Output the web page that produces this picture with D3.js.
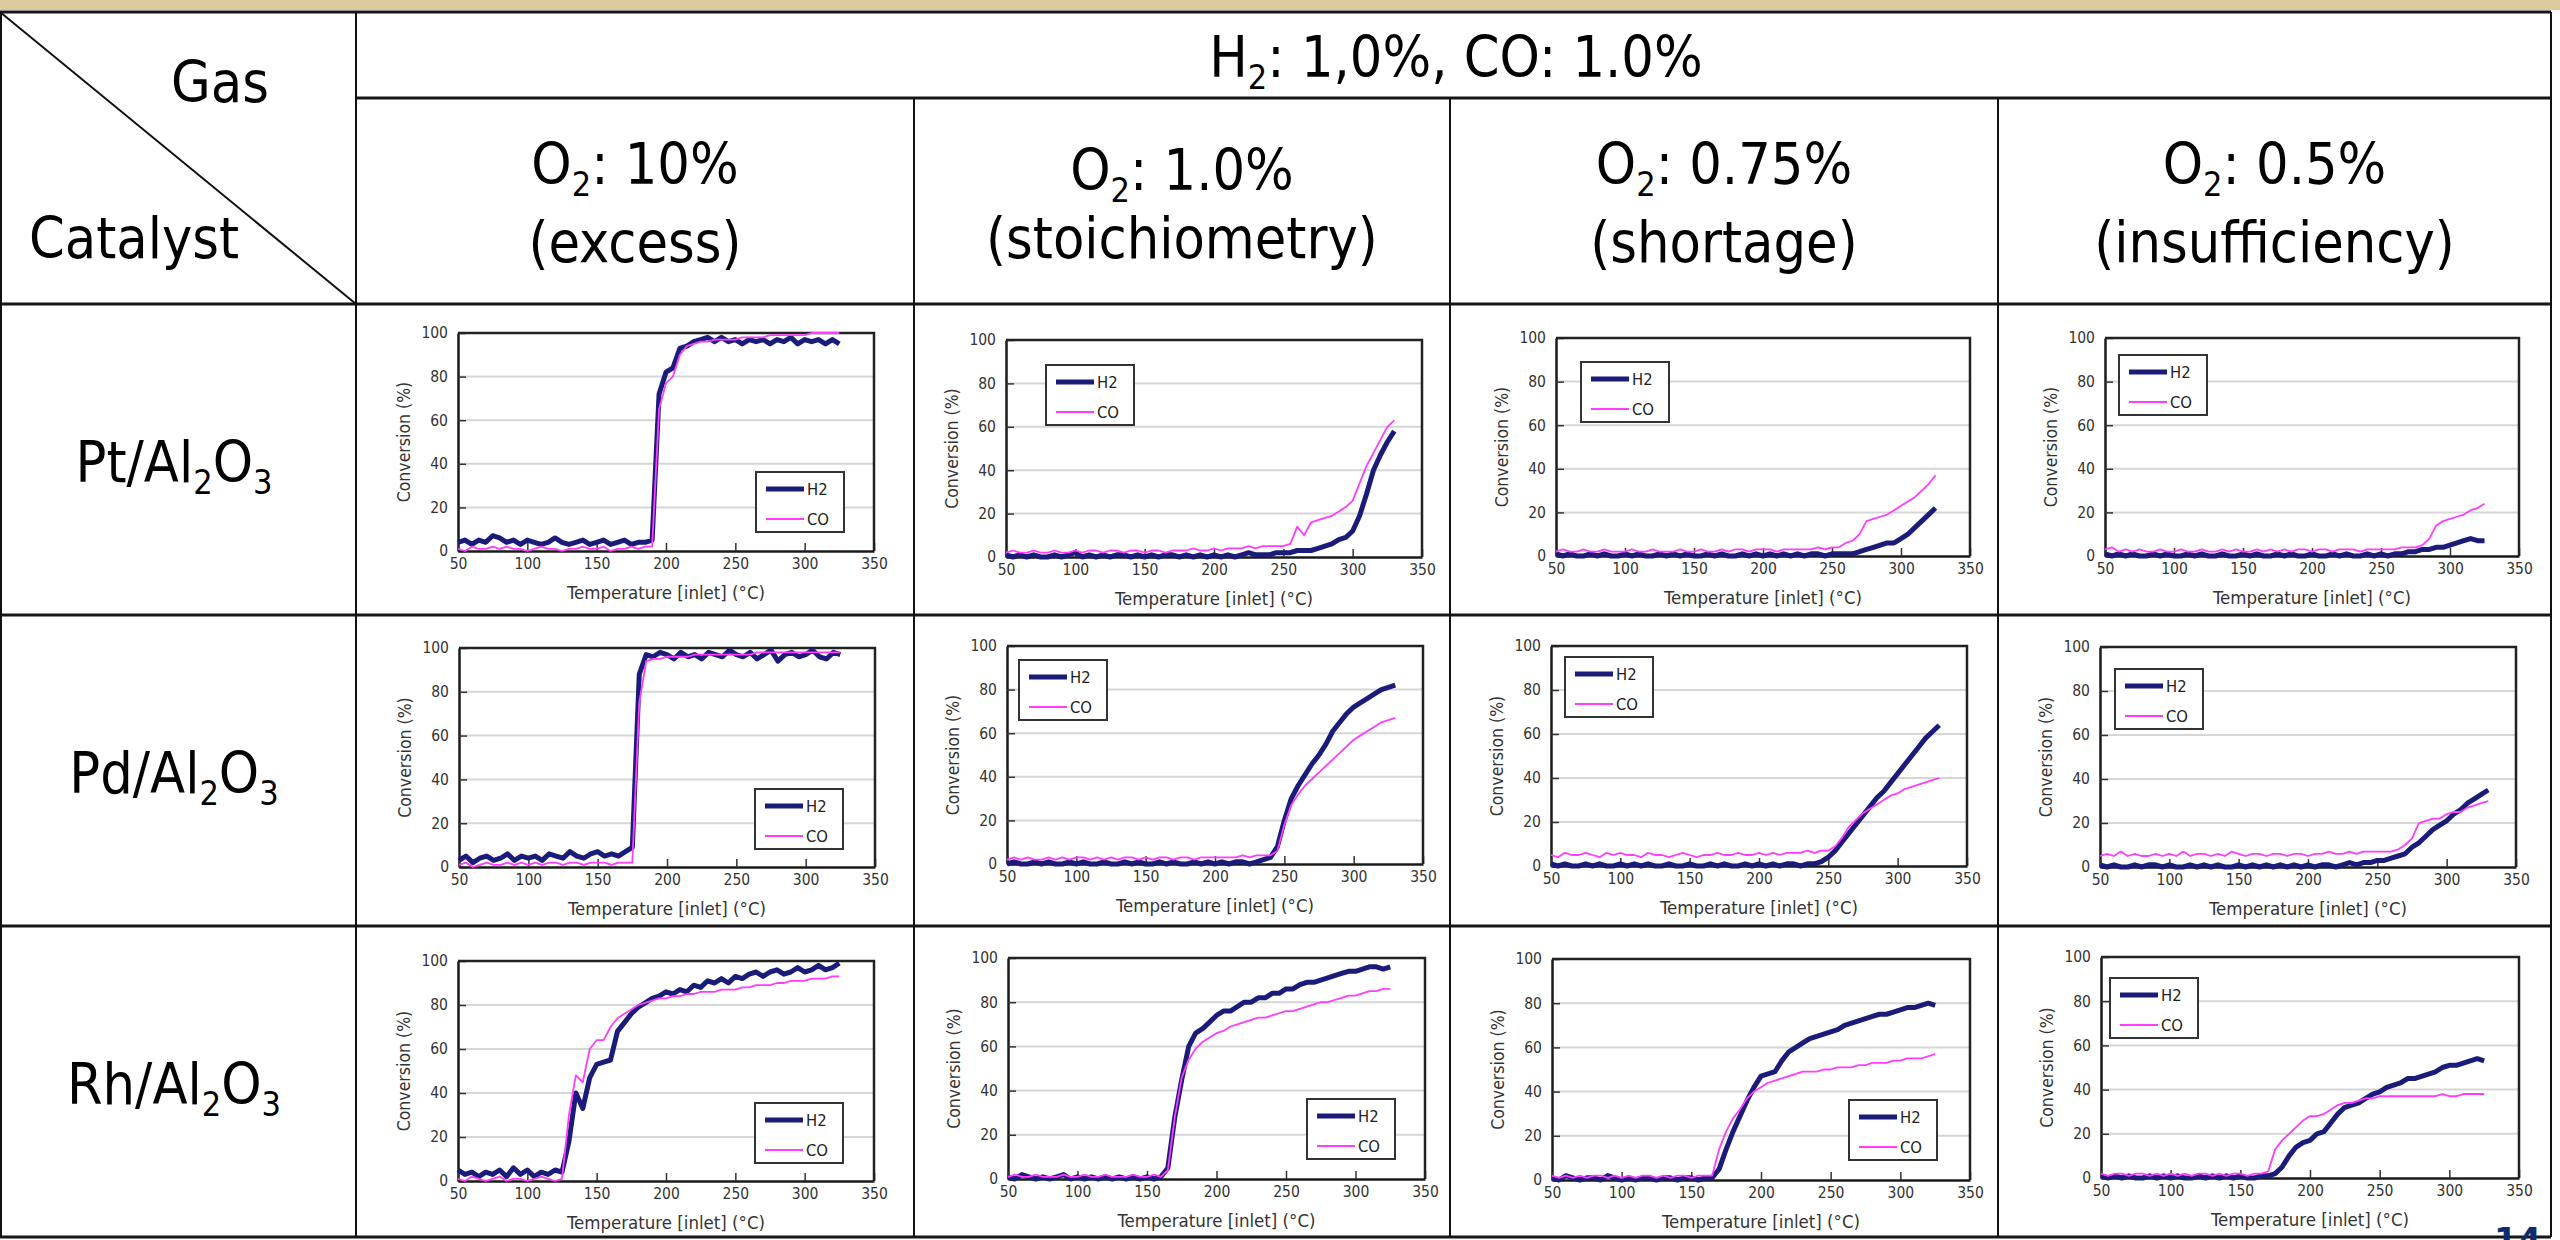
<!DOCTYPE html>
<html>
<head>
<meta charset="utf-8">
<script src="https://cdn.jsdelivr.net/npm/d3@7"></script>
<style>
body { margin: 0; background: #fff; }
svg { display: block; }
</style>
</head>
<body>
<svg id="chart" width="2560" height="1240"></svg>
<script>
// inlet temperature grid shared by every curve (degC)
var temperatures = [50,55,60,65,70,75,80,85,90,95,100,105,110,115,120,125,130,135,140,145,150,155,160,165,170,175,180,185,190,195,200,205,210,215,220,225,230,235,240,245,250,255,260,265,270,275,280,285,290,295,300,305,310,315,320,325,330];

var xTicks = [50, 100, 150, 200, 250, 300, 350];
var yTicks = [0, 20, 40, 60, 80, 100];
var gridValues = [20, 40, 60, 80];

var catalysts = ["Pt", "Pd", "Rh"];
var o2Levels = ["10%", "1.0%", "0.75%", "0.5%"];
var o2Notes = ["(excess)", "(stoichiometry)", "(shortage)", "(insufficiency)"];
var seriesNames = ["H2", "CO"];

// Pt/Al2O3
var ptH2Excess = [4,5,3,5,4,7,6,4,5,3, 5,4,3,4,6,4,3,4,5,3, 4,5,3,4,5,3,4,4,5,72, 82,84,93,94,96,97,98,96,98,96, 97,95,97,96,97,95,97,96,98,95, 97,96,97,95,97,95,null];
var ptCoExcess = [1,0,2,1,1,2,1,2,1,1, 0,1,2,1,1,0,1,1,2,1, 1,2,0,1,1,2,1,2,2,65, 77,80,90,94,95,96,96,97,97,97, 97,98,98,98,98,99,99,99,99,99, 99,100,100,100,100,100,null];
var ptH2Stoich = [1,0,1,0,1,0,0,1,0,1, 2,0,1,0,1,0,1,1,0,1, 0,1,0,1,1,0,1,0,1,0, 1,0,1,0,1,2,1,1,1,2, 2,2,3,3,3,4,5,6,8,9, 12,19,29,40,47,53,58];
var ptCoStoich = [2,3,2,2,3,2,2,3,2,2, 3,2,3,3,2,3,3,2,3,3, 2,3,3,2,3,3,3,4,3,3, 4,3,4,4,4,5,4,5,5,5, 5,6,14,10,16,17,18,19,21,23, 26,34,42,48,54,60,63];
var ptH2Short = [1,0,1,0,0,1,0,1,0,0, 1,0,1,0,0,1,0,1,0,1, 0,0,1,0,1,0,0,1,0,1, 0,1,0,1,0,1,0,1,1,0, 1,1,1,1,2,3,4,5,6,6, 8,10,13,16,19,22,null];
var ptCoShort = [2,3,2,2,3,2,2,3,2,2, 2,3,2,2,3,2,2,2,3,2, 2,3,2,2,3,2,3,3,2,3, 3,3,2,3,3,3,3,3,4,3, 4,4,6,7,10,16,17,18,19,21, 23,25,27,30,33,37,null];
var ptH2Insuf = [1,0,1,0,1,0,0,1,0,1, 0,0,1,0,1,0,0,1,0,0, 1,0,1,0,0,1,0,1,0,0, 1,0,0,1,0,1,0,0,1,0, 1,0,1,1,2,2,3,3,4,4, 5,6,7,8,7,7,null];
var ptCoInsuf = [3,4,2,3,2,3,2,2,3,2, 2,3,2,2,3,2,2,3,2,3, 2,2,3,2,3,2,3,2,3,3, 2,3,3,2,3,3,3,2,3,3, 3,3,3,4,4,4,5,8,14,16, 17,18,19,21,22,24,null];

// Pd/Al2O3
var pdH2Excess = [3,5,2,4,5,3,4,6,3,5, 4,5,3,6,5,4,7,5,4,6, 7,5,6,5,7,9,88,97,96,98, 97,95,98,96,97,95,98,97,96,99, 97,96,98,95,97,99,94,97,98,96, 97,99,96,95,98,97,null];
var pdCoExcess = [1,2,0,1,2,1,1,2,1,2, 1,2,1,2,2,1,2,2,1,2, 2,2,1,2,2,2,75,94,95,95, 96,96,96,96,97,97,97,97,97,97, 97,97,97,98,98,98,98,98,98,98, 98,98,98,98,98,98,null];
var pdH2Stoich = [0,1,0,0,1,0,1,0,0,1, 0,1,0,0,1,0,0,1,0,1, 0,0,1,0,1,0,0,1,0,1, 0,1,0,1,1,0,1,2,3,8, 20,30,36,41,46,50,55,61,65,69, 72,74,76,78,80,81,82];
var pdCoStoich = [2,3,2,3,2,2,3,2,3,2, 3,3,2,3,2,3,2,3,3,2, 3,2,3,3,2,3,3,2,3,3, 3,3,3,3,4,3,4,4,4,6, 18,27,32,36,39,42,45,48,51,54, 57,59,61,63,65,66,67];
var pdH2Short = [1,0,1,0,0,1,0,1,0,0, 1,0,1,0,1,0,0,1,0,0, 1,0,0,1,0,1,0,0,1,0, 1,0,1,0,1,1,0,1,1,2, 4,7,11,15,19,23,27,31,34,38, 42,46,50,54,58,61,64];
var pdCoShort = [5,4,6,5,5,6,5,4,6,5, 6,5,5,4,6,5,5,4,5,6, 5,4,5,5,6,5,5,6,5,5, 6,5,6,5,6,6,6,7,6,7, 7,9,13,18,21,24,26,28,30,32, 33,35,36,37,38,39,40];
var pdH2Insuf = [1,0,1,0,0,1,0,1,1,0, 1,0,0,1,0,1,0,1,0,0, 1,0,1,0,1,0,1,0,1,0, 1,0,1,1,0,1,2,1,2,2, 3,3,4,5,6,9,11,14,17,19, 21,24,26,29,31,33,35];
var pdCoInsuf = [5,6,5,7,5,6,5,5,6,5, 6,5,7,5,6,6,5,6,5,7, 6,5,6,6,5,6,6,5,6,6, 5,6,6,7,6,6,7,6,7,7, 7,7,7,8,10,13,20,21,22,22, 24,25,25,27,28,29,30];

// Rh/Al2O3
var rhH2Excess = [5,3,4,2,4,3,5,2,6,3, 5,2,4,3,5,4,18,40,33,47, 53,54,55,68,72,76,79,81,83,84, 86,85,87,86,89,88,91,90,92,90, 93,92,94,95,93,95,96,94,95,97, 95,96,98,96,97,99,null];
var rhCoExcess = [1,0,2,1,0,1,2,0,1,1, 0,1,2,1,0,1,30,48,45,60, 64,64,70,74,76,78,80,81,82,83, 83,84,84,85,85,86,86,86,87,87, 87,88,88,89,89,89,90,90,91,91, 91,92,92,92,93,93,null];
var rhH2Stoich = [1,0,2,1,0,1,0,1,2,0, 1,0,1,0,1,0,1,0,1,0, 1,0,1,5,28,45,60,66,68,71, 74,76,76,78,80,80,82,82,84,84, 86,86,88,89,89,90,91,92,93,94, 94,95,96,96,95,96,null];
var rhCoStoich = [1,2,1,1,2,1,1,1,2,1, 1,2,1,1,2,1,1,1,2,1, 1,2,1,4,28,46,54,59,62,64, 66,67,69,70,71,72,73,73,74,75, 76,76,77,78,79,80,80,81,82,83, 83,84,85,85,86,86,null];
var rhH2Short = [1,0,2,1,0,1,1,0,2,1, 0,1,0,1,1,0,1,1,0,1, 1,0,1,1,5,14,22,29,36,42, 47,48,49,54,58,60,62,64,65,66, 67,68,70,71,72,73,74,75,75,76, 77,78,78,79,80,79,null];
var rhCoShort = [2,1,2,1,2,1,2,2,1,2, 1,2,1,2,2,1,2,1,2,2, 1,2,2,2,14,22,28,32,37,40, 42,44,45,46,47,48,49,49,49,50, 50,51,51,51,52,52,53,53,53,54, 54,55,55,55,56,57,null];
var rhH2Insuf = [1,0,1,0,1,0,0,1,0,1, 0,1,0,0,1,0,1,0,1,0, 1,0,0,1,1,2,5,10,14,16, 17,20,21,25,29,32,33,34,36,38, 39,41,42,43,45,45,46,47,48,50, 51,51,52,53,54,53,null];
var rhCoInsuf = [2,1,2,2,1,2,2,1,2,1, 2,1,2,1,2,2,1,2,1,2, 2,1,2,2,3,13,17,20,23,26, 28,28,29,31,33,34,34,35,36,36, 37,37,37,37,37,37,37,37,37,38, 37,37,38,38,38,38,null];

var charts = [
    [ptH2Excess, ptCoExcess], [ptH2Stoich, ptCoStoich], [ptH2Short, ptCoShort], [ptH2Insuf, ptCoInsuf],
    [pdH2Excess, pdCoExcess], [pdH2Stoich, pdCoStoich], [pdH2Short, pdCoShort], [pdH2Insuf, pdCoInsuf],
    [rhH2Excess, rhCoExcess], [rhH2Stoich, rhCoStoich], [rhH2Short, rhCoShort], [rhH2Insuf, rhCoInsuf]
];

// layout: plot boxes [left, top, width, height] and legend placement
var plotBoxes = [
    [458, 333, 416, 218], [1006, 340, 416, 217], [1556, 338, 414, 218], [2105, 338, 414, 218],
    [459, 648, 416, 219], [1007, 646, 416, 218], [1551, 646, 416, 220], [2100, 647, 416, 220],
    [458, 961, 416, 220], [1008, 958, 417, 221], [1552, 959, 418, 221], [2101, 957, 418, 221]
];
var legendSpots = [
    ["br", 30, 19], ["tl", 40, 25], ["tl", 25, 24], ["tl", 14, 17],
    ["br", 32, 18], ["tl", 12, 14], ["tl", 14, 11], ["tl", 15, 22],
    ["br", 31, 18], ["br", 30, 20], ["br", 33, 20], ["tl", 9, 21]
];
var colX = [0, 356, 914, 1450, 1998, 2551];
var rowY = [12, 98, 304, 615, 926, 1237];

var bigFont = "'DejaVu Sans Condensed', 'DejaVu Sans', sans-serif";
var smallFont = "'DejaVu Sans Condensed', 'DejaVu Sans', sans-serif";
var h2Color = "#1b1b7a";
var coColor = "#ff3cff";

var svg = d3.select("#chart");

svg.append("rect").attr("x", 0).attr("y", 0).attr("width", 2560).attr("height", 9).attr("fill", "#dccb9c");
svg.append("line").attr("x1", 0).attr("x2", 2560).attr("y1", 9.5).attr("y2", 9.5).attr("stroke", "#c8c8c8").attr("stroke-width", 1);

// table grid
var hLines = [[0, rowY[0]], [356, rowY[1]], [0, rowY[2]], [0, rowY[3]], [0, rowY[4]], [0, rowY[5]]];
svg.selectAll("line.hrule").data(hLines).enter().append("line")
    .attr("class", "hrule")
    .attr("x1", function(d) { return d[0]; })
    .attr("x2", colX[5])
    .attr("y1", function(d) { return d[1]; })
    .attr("y2", function(d) { return d[1]; })
    .attr("stroke", "#161616")
    .attr("stroke-width", 3);

var vLines = [[1, rowY[0]], [356, rowY[0]], [914, rowY[1]], [1450, rowY[1]], [1998, rowY[1]], [2551, rowY[0]]];
svg.selectAll("line.vrule").data(vLines).enter().append("line")
    .attr("class", "vrule")
    .attr("x1", function(d) { return d[0]; })
    .attr("x2", function(d) { return d[0]; })
    .attr("y1", function(d) { return d[1]; })
    .attr("y2", rowY[5])
    .attr("stroke", "#111")
    .attr("stroke-width", 2);

svg.append("line").attr("x1", 0).attr("y1", rowY[0]).attr("x2", 356).attr("y2", rowY[2])
    .attr("stroke", "#111").attr("stroke-width", 2);

// text with "_x" pieces as subscripts
function richText(x, y, pieces, anchor) {
    var t = svg.append("text")
        .attr("x", x).attr("y", y)
        .attr("text-anchor", anchor || "middle")
        .attr("font-family", bigFont)
        .attr("font-size", 57)
        .attr("fill", "#000");
    var shifted = false;
    pieces.forEach(function(p) {
        var span = t.append("tspan");
        if(p.charAt(0) == "_") {
            span.attr("dy", shifted ? 0 : 12).attr("font-size", 34).text(p.slice(1));
            shifted = true;
        } else {
            if(shifted) span.attr("dy", -12);
            shifted = false;
            span.text(p);
        }
    });
    return t;
}

richText(269, 102, ["Gas"], "end");
richText(29, 258, ["Catalyst"], "start");
richText(1456, 77, ["H", "_2", ": 1,0%, CO: 1.0%"]);

o2Levels.forEach(function(level, i) {
    var cx = (colX[i + 1] + colX[i + 2]) / 2;
    var shift = i == 1 ? 6 : 0;
    richText(cx, 184 + shift, ["O", "_2", ": " + level]);
    richText(cx, 262 - (i == 1 ? 4 : 0), [o2Notes[i]]);
});

catalysts.forEach(function(cat, i) {
    var cy = (rowY[i + 2] + rowY[i + 3]) / 2;
    richText(174, cy + 22, [cat + "/Al", "_2", "O", "_3"]);
});

var line = d3.line()
    .defined(function(d) { return d[1] != null; });

function drawChart(box, spot, h2, co) {
    var w = box[2], h = box[3];
    var g = svg.append("g").attr("transform", "translate(" + box[0] + "," + box[1] + ")");
    var x = d3.scaleLinear().domain([50, 350]).range([0, w]);
    var y = d3.scaleLinear().domain([0, 100]).range([h, 0]);

    g.append("rect").attr("width", w).attr("height", h).attr("fill", "#fff");

    g.selectAll("line.grid").data(gridValues).enter().append("line")
        .attr("class", "grid")
        .attr("x1", 0).attr("x2", w)
        .attr("y1", function(d) { return y(d); })
        .attr("y2", function(d) { return y(d); })
        .attr("stroke", "#d6d6d6")
        .attr("stroke-width", 2);

    var yAxis = g.append("g")
        .call(d3.axisLeft(y).tickValues(yTicks).tickSize(-8).tickSizeOuter(0).tickPadding(10));
    var xAxis = g.append("g")
        .attr("transform", "translate(0," + h + ")")
        .call(d3.axisBottom(x).tickValues(xTicks).tickSize(-8).tickSizeOuter(0).tickPadding(7));
    [yAxis, xAxis].forEach(function(a) {
        a.attr("font-family", smallFont).attr("font-size", 15.5);
        a.selectAll("text").attr("fill", "#333");
        a.selectAll(".tick line").attr("stroke", "#333").attr("stroke-width", 1.5);
        a.select(".domain").attr("stroke", "#1a1a1a").attr("stroke-width", 2.5);
    });

    g.append("path")
        .attr("d", "M0,0H" + w + "V" + h)
        .attr("fill", "none")
        .attr("stroke", "#222")
        .attr("stroke-width", 2.5);

    line.x(function(d) { return x(d[0]); }).y(function(d) { return y(d[1]); });

    g.append("path")
        .datum(temperatures.map(function(t, i) { return [t, h2[i]]; }))
        .attr("d", line)
        .attr("fill", "none")
        .attr("stroke", h2Color)
        .attr("stroke-width", 5)
        .attr("stroke-linejoin", "round");

    g.append("path")
        .datum(temperatures.map(function(t, i) { return [t, co[i]]; }))
        .attr("d", line)
        .attr("fill", "none")
        .attr("stroke", coColor)
        .attr("stroke-width", 1.8)
        .attr("stroke-linejoin", "round");

    g.append("text")
        .attr("transform", "translate(-54," + (h / 2) + ") rotate(-90)")
        .attr("text-anchor", "middle")
        .attr("dy", "0.35em")
        .attr("font-family", smallFont)
        .attr("font-size", 17.5)
        .attr("fill", "#333")
        .text("Conversion (%)");

    g.append("text")
        .attr("x", w / 2)
        .attr("y", h + 48)
        .attr("text-anchor", "middle")
        .attr("font-family", smallFont)
        .attr("font-size", 18.5)
        .attr("fill", "#333")
        .text("Temperature [inlet] (\u00b0C)");

    var lw = 88, lh = 60;
    var lx = spot[0] == "br" ? w - spot[1] - lw : spot[1];
    var ly = spot[0] == "br" ? h - spot[2] - lh : spot[2];
    var leg = g.append("g").attr("transform", "translate(" + lx + "," + ly + ")");
    leg.append("rect").attr("width", lw).attr("height", lh)
        .attr("fill", "#fff").attr("stroke", "#333").attr("stroke-width", 2);
    seriesNames.forEach(function(name, i) {
        var yy = 17 + i * 30;
        leg.append("line")
            .attr("x1", 10).attr("x2", 48).attr("y1", yy).attr("y2", yy)
            .attr("stroke", i == 0 ? h2Color : coColor)
            .attr("stroke-width", i == 0 ? 5 : 2);
        leg.append("text")
            .attr("x", 51).attr("y", yy).attr("dy", "0.36em")
            .attr("font-family", smallFont).attr("font-size", 16.5)
            .attr("fill", "#222")
            .text(name);
    });
}

charts.forEach(function(c, i) {
    drawChart(plotBoxes[i], legendSpots[i], c[0], c[1]);
});

svg.append("text")
    .attr("x", 2494).attr("y", 1252)
    .attr("font-family", "'DejaVu Sans', sans-serif")
    .attr("font-weight", "bold")
    .attr("font-size", 34)
    .attr("fill", "#0d2c6c")
    .text("14");
</script>
</body>
</html>
